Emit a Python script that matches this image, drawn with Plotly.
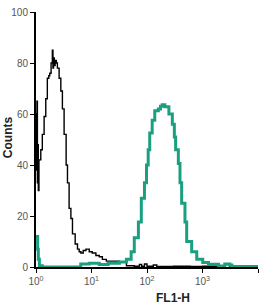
import plotly.graph_objects as go

# Isotype control (black)
ctrl_fl1 = [1.00, 1.02, 1.04, 1.06, 1.08, 1.10, 1.13, 1.22, 1.30, 1.40, 1.50, 1.60, 1.70, 1.77,
            1.87, 1.97, 2.02, 2.07, 2.14, 2.21, 2.32, 2.43, 2.61, 2.80, 2.99, 3.21, 3.49, 3.69,
            3.95, 4.25, 4.54, 5.08, 5.59, 6.0, 6.44, 7.09, 7.94, 9.1, 10.3, 12.0, 13.8, 15.7,
            18.5, 25.8, 31.8, 42.6, 59, 73, 80, 90, 100, 130, 150, 300, 600, 1000, 2000, 2500, 3100]
ctrl_counts = [60, 38, 65, 33, 48, 30, 42, 46, 52, 59, 66, 74, 75, 76,
               80, 85, 78, 82, 79, 81, 80, 78, 74, 69, 62, 52, 40, 33,
               23, 19, 13, 9, 7, 6, 5.5, 6.5, 7, 6, 5.5, 4.5, 4, 3,
               2.3, 2.3, 2, 0.5, 0.3, 1, 0.3, 1.2, 0.3, 0.8, 0.2, 0.3, 0.2, 0.3, 0.4, 1, 0]

# Stained sample (teal)
stain_fl1 = [1.00, 1.05, 1.07, 1.10, 1.15, 1.3, 6.4, 9.1, 13.8, 20, 31.8, 42.6, 51.8, 59, 70, 79,
             90, 98, 105, 112, 124, 138, 160, 175, 188, 210, 248, 286, 311, 328, 367, 393,
             421, 483, 519, 638, 787, 1010, 1282, 1945, 2520, 3100, 3380, 10000]
stain_counts = [12, 12, 7, 3, 0.5, 0, 1.2, 1.5, 1.0, 1.5, 2, 3, 6, 11.5, 17.6, 27,
                33, 40, 46, 52.5, 57.5, 61.3, 62, 63, 63.6, 62.8, 60, 56, 51, 46, 40.6, 33,
                25, 17.6, 10, 6, 3, 1.8, 1.1, 0.4, 1.2, 0.8, 0.2, 0.2]

x_tickvals = [1, 10, 100, 1000, 10000]
x_ticktext = ["10<sup>0</sup>", "10<sup>1</sup>", "10<sup>2</sup>", "10<sup>3</sup>", "10<sup>4</sup>"]
y_tickvals = [0, 20, 40, 60, 80, 100]

fig = go.Figure()
fig.add_trace(go.Scatter(x=ctrl_fl1, y=ctrl_counts, mode="lines",
                         line=dict(color="black", width=1.4, shape="hv"),
                         cliponaxis=False, showlegend=False))
fig.add_trace(go.Scatter(x=stain_fl1, y=stain_counts, mode="lines",
                         line=dict(color="#1aa080", width=3, shape="hv"),
                         cliponaxis=False, showlegend=False))

fig.update_layout(
    width=264, height=308,
    margin=dict(l=36, r=6, t=6, b=41),
    paper_bgcolor="white", plot_bgcolor="white",
    font=dict(family="Liberation Sans, Arial, sans-serif", color="#555", size=10),
    xaxis=dict(type="log", range=[0, 4], tickvals=x_tickvals, ticktext=x_ticktext,
               showgrid=False, zeroline=False, showline=True, linecolor="black", linewidth=1.5,
               ticks="outside", ticklen=4, tickcolor="black", tickwidth=1,
               tickfont=dict(size=10, color="#555")),
    yaxis=dict(range=[0, 100], tickvals=y_tickvals,
               showgrid=False, zeroline=False, showline=True, linecolor="black", linewidth=2,
               ticks="outside", ticklen=4, tickcolor="black", tickwidth=1,
               tickfont=dict(size=10, color="#555")),
    annotations=[
        dict(text="<b>FL1-H</b>", x=0.617, y=-0.12, xref="paper", yref="paper",
             xanchor="center", yanchor="middle", showarrow=False,
             font=dict(size=12, color="#222")),
        dict(text="<b>Counts</b>", x=-0.125, y=0.51, xref="paper", yref="paper",
             xanchor="center", yanchor="middle", showarrow=False, textangle=-90,
             font=dict(size=12, color="#222")),
    ],
)
fig.write_html("out.html")
